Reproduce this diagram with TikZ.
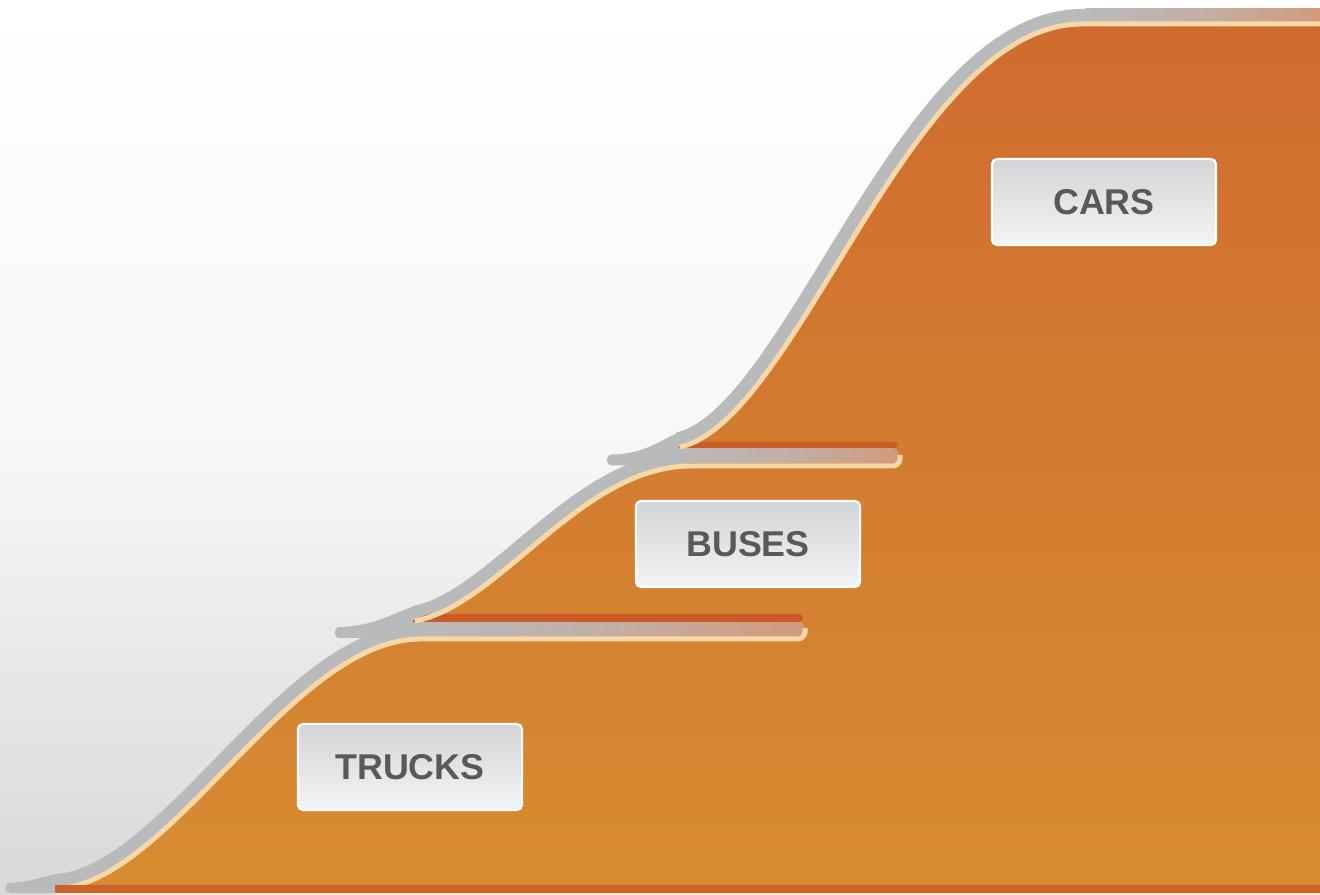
\documentclass[tikz,border=0pt]{standalone}
\usepackage{fontspec}
\setmainfont{Liberation Sans}
\usepackage{tikz}

\definecolor{bgbottom}{HTML}{D7D8DA}
\definecolor{outlinegray}{HTML}{B9BABC}
\definecolor{creamline}{HTML}{F8D8A8}
\definecolor{orangetop}{HTML}{CF6C2F}
\definecolor{orangebot}{HTML}{D78C31}
\definecolor{grooveend}{HTML}{D39A7C}
\definecolor{shadowred}{HTML}{CB5A29}
\definecolor{boxtop}{HTML}{D2D4D7}
\definecolor{boxbot}{HTML}{F4F4F5}
\definecolor{labeltext}{HTML}{58595B}

\begin{document}
\begin{tikzpicture}[x=0.1mm, y=-0.1mm,
  outline/.style={draw=outlinegray, line width=3mm, line cap=butt},
  hook/.style={fill=outlinegray},
  edge/.style={draw=creamline, line width=0.5mm},
  groove/.style={left color=outlinegray, right color=grooveend, middle color=outlinegray!65!grooveend},
  tierlabel/.style={draw=white, line width=0.6pt, rounded corners=0.5mm, top color=boxtop, bottom color=boxbot, minimum width=22.4mm, minimum height=8.6mm, text=labeltext, font=\fontsize{10.2}{12}\selectfont\bfseries}]
\useasboundingbox (0,0) rectangle (1320,895);
\shade[top color=white, bottom color=bgbottom, middle color=white!97!black] (0,0) rectangle (1320,895);

\fill[hook] (10,883) .. controls (30,882) and (45,876) .. (57,874) -- (57,893) -- (10,893) .. controls (4,893) and (4,883) .. (10,883);
\draw[outline] (55,889) .. controls (170,885) and (290,640) .. (420,639);
\fill[hook] (340,627) .. controls (380,626) and (400,608) .. (422,604.4) -- (428,636) .. controls (390,637) and (360,638) .. (340,638) .. controls (333,638) and (333,627) .. (340,627);
\draw[outline] (415,621) .. controls (500,605) and (580,467) .. (690,466);
\fill[hook] (612,454.5) .. controls (650,454) and (665,435) .. (686.5,430.2) -- (692,462) .. controls (660,463) and (630,465.5) .. (612,465.5) .. controls (605,465.5) and (605,454.5) .. (612,454.5);
\draw[outline] (680,447) .. controls (800,420) and (910,20) .. (1085,24) -- (1320,24);

\shade[top color=orangetop, bottom color=orangebot] (55,889) .. controls (170,885) and (290,640) .. (420,639) -- (415,621) .. controls (500,605) and (580,467) .. (690,466) -- (680,447) .. controls (800,420) and (910,20) .. (1085,24) -- (1320,24) -- (1320,889) -- cycle;

\shade[groove, rounded corners=0.7mm] (400,621) rectangle (804,637);
\fill[shadowred, rounded corners=0.4mm] (410,622) -- (428,614) -- (803,614) -- (803,622) -- cycle;
\shade[groove, rounded corners=0.7mm] (670,448) rectangle (899,463);
\fill[shadowred, rounded corners=0.4mm] (676,448) -- (695,442) -- (898,442) -- (898,448) -- cycle;
\shade[groove] (1085,9) rectangle (1320,21.5);

\draw[edge] (55,889) .. controls (170,885) and (290,640) .. (420,639) -- (797,639) .. controls (804,639) and (806,633) .. (805,628);
\draw[edge] (415,621) .. controls (500,605) and (580,467) .. (690,466) -- (892,466) .. controls (899,466) and (901,460) .. (900,455);
\draw[edge] (680,447) .. controls (800,420) and (910,20) .. (1085,24) -- (1320,24);

\fill[shadowred!85!orangebot] (55,885) rectangle (1320,893);
\fill[creamline!40!white] (55,893) rectangle (1320,895);

\node[tierlabel] (trucks) at (410,767) {TRUCKS};
\node[tierlabel] (buses) at (748,544) {BUSES};
\node[tierlabel] (cars) at (1104,202) {CARS};
\end{tikzpicture}
\end{document}
